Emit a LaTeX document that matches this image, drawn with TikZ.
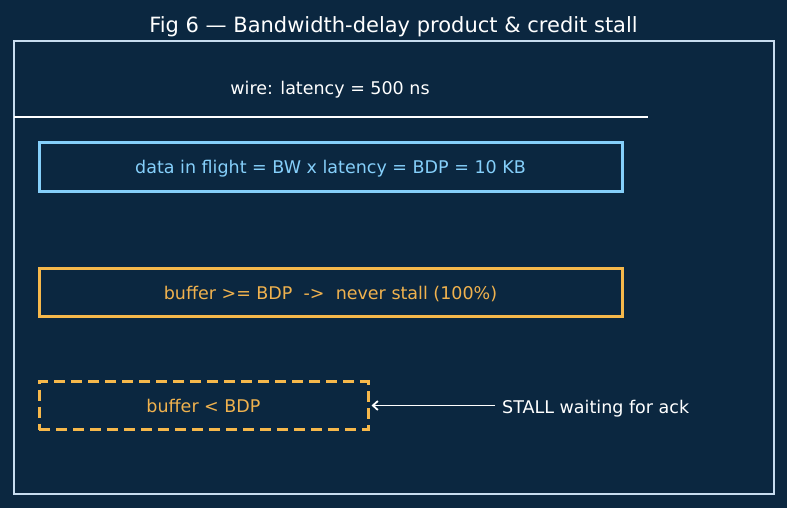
\documentclass[tikz,border=0pt]{standalone}
\usepackage{fontspec}
\setmainfont{DejaVu Sans}
\usetikzlibrary{arrows.meta}
\definecolor{bgc}{HTML}{0B2740}
\definecolor{framec}{HTML}{C8DDF0}
\definecolor{bluec}{HTML}{85CFFA}
\definecolor{orangec}{HTML}{F6B84B}
\definecolor{otext}{HTML}{F0B24E}
\tikzset{
  boxstyle/.style={draw, line width=3pt, minimum height=48pt, inner sep=0pt, text height=13pt, text depth=0pt, font=\fontsize{17.5}{21}\selectfont},
  bluebox/.style={boxstyle, draw=bluec, text=bluec, minimum width=583pt},
  orangebox/.style={boxstyle, draw=orangec, text=otext, minimum width=583pt},
  dashbox/.style={boxstyle, draw=orangec, text=otext, minimum width=329pt, dash pattern=on 11pt off 6pt},
  lbl/.style={text=white, inner sep=0pt, font=\fontsize{17.5}{21}\selectfont},
}
\begin{document}
\begin{tikzpicture}[x=1pt,y=-1pt]
\fill[bgc] (0,0) rectangle (787,508);
\useasboundingbox (0,0) rectangle (787,508);
\node[text=white, inner sep=0pt, anchor=base, font=\fontsize{21}{25}\selectfont] (title) at (393.5,32.2) {Fig 6 — Bandwidth-delay product \& credit stall};
\draw[framec, line width=1.5pt] (14,41) rectangle (774,494);
\node[lbl, anchor=base] (wire) at (330,94.5) {wire: latency = 500 ns};
\coordinate (w1) at (14,117);
\coordinate (w2) at (648,117);
\draw[white, line width=1.5pt] (w1) -- (w2);
\node[bluebox] (flight) at (330.5,167) {data in flight = BW x latency = BDP = 10 KB};
\node[orangebox] (big) at (330.5,292.5) {buffer >= BDP\ \ ->\ \ never stall (100\%)};
\node[dashbox] (small) at (203.5,405.5) {buffer < BDP};
\node[lbl, anchor=base west] (stall) at (502,413.5) {STALL waiting for ack};
\coordinate (arrs) at (495,405.5);
\draw[white, line width=1.8pt, -{Straight Barb[length=5pt,width=9pt]}] (arrs) -- ([xshift=2pt]small.east);
\end{tikzpicture}
\end{document}
